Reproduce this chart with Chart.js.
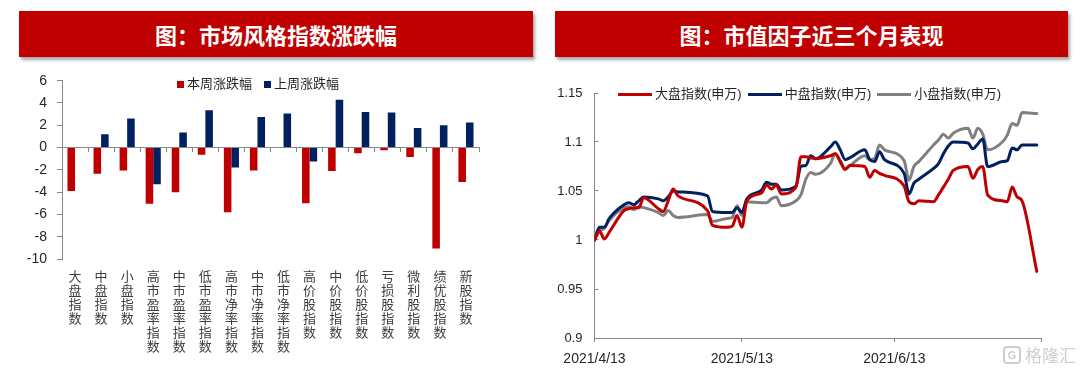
<!DOCTYPE html>
<html><head><meta charset="utf-8">
<script src="https://cdn.jsdelivr.net/npm/chart.js@4.4.1/dist/chart.umd.min.js"></script>
<style>
html,body{margin:0;padding:0;background:#fff;width:1080px;height:372px;overflow:hidden;font-family:"Liberation Sans","Noto Sans CJK SC",sans-serif;}
.banner{position:absolute;top:11px;height:46px;background:#C00000;color:#fff;font-family:"Noto Sans CJK SC",sans-serif;font-weight:bold;font-size:22px;line-height:46px;text-align:center;box-shadow:2px 3px 3px rgba(0,0,0,0.35);}
canvas{position:absolute;top:60px;}
#c1{left:0;}
#c2{left:540px;}
.legend{position:absolute;display:flex;align-items:center;font-size:13px;color:#262626;white-space:nowrap;line-height:16px;}
.legend .item{display:flex;align-items:center;}
.wm{position:absolute;left:1003px;top:345px;display:flex;align-items:center;color:#cfcfcf;font-family:"Noto Sans CJK SC",sans-serif;font-size:17px;line-height:20px;}
.wm .ic{width:14px;height:14px;border:2px solid #cfcfcf;border-radius:4px;margin-right:4px;font-size:11px;line-height:14px;text-align:center;font-weight:bold;font-family:"Liberation Sans",sans-serif;}
</style></head>
<body>
<div class="banner" style="left:19px;width:514px;">图：市场风格指数涨跌幅</div>
<div class="banner" style="left:555px;width:513px;">图：市值因子近三个月表现</div>
<canvas id="c1" width="540" height="312"></canvas>
<canvas id="c2" width="540" height="312"></canvas>
<div id="lg1" class="legend" style="left:177px;top:76px;"></div>
<div id="lg2" class="legend" style="left:618px;top:86px;"></div>
<div class="wm"><div class="ic">G</div>格隆汇</div>
<script>
// ---------- Bar chart data ----------
const categories = ['大盘指数','中盘指数','小盘指数','高市盈率指数','中市盈率指数','低市盈率指数','高市净率指数','中市净率指数','低市净率指数','高价股指数','中价股指数','低价股指数','亏损股指数','微利股指数','绩优股指数','新股指数'];
const barSeriesNames = ['本周涨跌幅','上周涨跌幅'];
const thisWeek = [-3.9, -2.35, -2.05, -5.05, -4.0, -0.65, -5.8, -2.05, -0.05, -5.0, -2.1, -0.5, -0.25, -0.85, -9.05, -3.1];
const lastWeek = [0.05, 1.2, 2.6, -3.3, 1.35, 3.35, -1.8, 2.75, 3.05, -1.25, 4.3, 3.2, 3.15, 1.75, 2.0, 2.25];
const barYTicks = [-10, -8, -6, -4, -2, 0, 2, 4, 6];

// ---------- Line chart data ----------
const dates = ['2021-04-13','2021-04-14','2021-04-15','2021-04-16','2021-04-19','2021-04-20','2021-04-21','2021-04-22','2021-04-23','2021-04-26','2021-04-27','2021-04-28','2021-04-29','2021-04-30',
'2021-05-06','2021-05-07','2021-05-10','2021-05-11','2021-05-12','2021-05-13','2021-05-14','2021-05-17','2021-05-18','2021-05-19','2021-05-20','2021-05-21','2021-05-24','2021-05-25','2021-05-26','2021-05-27','2021-05-28','2021-05-31',
'2021-06-01','2021-06-02','2021-06-03','2021-06-04','2021-06-07','2021-06-08','2021-06-09','2021-06-10','2021-06-11','2021-06-15','2021-06-16','2021-06-17','2021-06-18','2021-06-21','2021-06-22','2021-06-23','2021-06-24','2021-06-25','2021-06-28','2021-06-29','2021-06-30',
'2021-07-01','2021-07-02','2021-07-05','2021-07-06','2021-07-07','2021-07-08','2021-07-09','2021-07-12'];
const largeCap = [1.000,1.0095,1.001,1.008,1.030,1.032,1.033,1.033,1.043,1.032,1.029,1.040,1.052,1.045,
1.030,1.015,1.013,1.014,1.025,1.013,1.040,1.048,1.056,1.052,1.056,1.047,1.054,1.085,1.085,1.084,1.083,1.086,
1.088,1.080,1.072,1.076,1.075,1.064,1.071,1.068,1.066,1.055,1.039,1.037,1.040,1.039,1.046,1.054,1.062,1.071,1.075,1.063,1.072,
1.075,1.046,1.040,1.039,1.054,1.044,1.040,0.968];
const midCap = [1.000,1.013,1.013,1.022,1.036,1.038,1.036,1.040,1.044,1.042,1.040,1.044,1.050,1.049,
1.045,1.029,1.028,1.028,1.033,1.028,1.042,1.051,1.059,1.057,1.057,1.051,1.055,1.075,1.076,1.086,1.083,1.095,
1.100,1.092,1.082,1.084,1.092,1.082,1.080,1.090,1.082,1.068,1.047,1.058,1.062,1.073,1.078,1.088,1.096,1.100,1.099,1.093,1.098,
1.103,1.075,1.080,1.081,1.094,1.092,1.097,1.097];
const smallCap = [1.000,1.009,1.012,1.020,1.033,1.034,1.031,1.034,1.033,1.028,1.025,1.030,1.025,1.023,
1.026,1.019,1.022,1.023,1.035,1.025,1.039,1.038,1.038,1.042,1.044,1.035,1.040,1.046,1.062,1.069,1.067,1.078,
1.088,1.081,1.073,1.076,1.086,1.082,1.083,1.097,1.092,1.081,1.061,1.075,1.080,1.097,1.102,1.108,1.104,1.109,1.114,1.104,1.114,
1.108,1.092,1.100,1.107,1.119,1.117,1.130,1.129];
const lineSeriesNames = ['大盘指数(申万)','中盘指数(申万)','小盘指数(申万)'];
const xTickDates = ['2021-04-13','2021-05-13','2021-06-13','2021-07-13'];
const lineYTicks = [0.9, 0.95, 1, 1.05, 1.1, 1.15];

// ---------- helpers ----------
const RED = '#C00000', NAVY = '#002060', GRAY = '#808080', AXIS = '#868686';
const t0 = Date.UTC(2021, 3, 13);
const dayOf = s => { const [y, m, d] = s.split('-').map(Number); return Math.round((Date.UTC(y, m - 1, d) - t0) / 86400000); };
const fmtDate = s => { const [y, m, d] = s.split('-').map(Number); return y + '/' + m + '/' + d; };

// ---------- Bar chart ----------
const barChart = new Chart(document.getElementById('c1'), {
  type: 'bar',
  data: {
    labels: categories.map(s => s.split('')),
    datasets: [
      { label: barSeriesNames[0], data: thisWeek, backgroundColor: RED, xAxisID: 'x', yAxisID: 'y', categoryPercentage: 0.58, barPercentage: 1 },
      { label: barSeriesNames[1], data: lastWeek, backgroundColor: NAVY, xAxisID: 'x', yAxisID: 'y', categoryPercentage: 0.58, barPercentage: 1 }
    ]
  },
  options: {
    responsive: false, animation: false, devicePixelRatio: 1,
    layout: { padding: { left: 0, top: 20.7, right: 61, bottom: 0 } },
    plugins: { legend: { display: false }, tooltip: { enabled: false } },
    scales: {
      x: {
        grid: { display: false, drawTicks: false }, border: { display: false },
        ticks: { autoSkip: false, maxRotation: 0, minRotation: 0, padding: 10, color: '#404040',
                 font: { family: '"Noto Sans CJK SC"', size: 13, lineHeight: 14 / 13 } },
        afterFit: s => { s.height = 113; }
      },
      x2: {
        type: 'category', axis: 'x', position: { y: 0 }, offset: true,
        grid: { offset: true, drawOnChartArea: false, drawTicks: true, tickLength: 4, color: AXIS },
        border: { color: AXIS, width: 1 },
        ticks: { display: false }
      },
      y: {
        min: -10, max: 6,
        afterBuildTicks: s => { s.ticks = barYTicks.map(v => ({ value: v })); },
        grid: { drawOnChartArea: false, tickLength: 5, color: AXIS },
        border: { color: AXIS, width: 1 },
        ticks: { padding: 10, color: '#262626', font: { family: '"Liberation Sans"', size: 14 } },
        afterFit: s => { s.width = 62; }
      }
    }
  }
});

// ---------- Line chart ----------
const lineColors = [RED, NAVY, GRAY];
const lineValues = [largeCap, midCap, smallCap];
const lineChart = new Chart(document.getElementById('c2'), {
  type: 'line',
  data: {
    datasets: lineValues.map((vals, k) => ({
      label: lineSeriesNames[k],
      data: dates.map((d, i) => ({ x: dayOf(d), y: vals[i] })),
      borderColor: lineColors[k], backgroundColor: lineColors[k]
    }))
  },
  options: {
    responsive: false, animation: false, devicePixelRatio: 1,
    parsing: true,
    elements: { point: { radius: 0 }, line: { borderWidth: 3, cubicInterpolationMode: 'monotone', borderCapStyle: 'round', borderJoinStyle: 'round' } },
    layout: { padding: { left: 0, top: 33, right: 38.3, bottom: 0 } },
    plugins: { legend: { display: false }, tooltip: { enabled: false } },
    scales: {
      x: {
        type: 'linear', min: dayOf(xTickDates[0]), max: dayOf(xTickDates[xTickDates.length - 1]),
        afterBuildTicks: s => { s.ticks = xTickDates.map(d => ({ value: dayOf(d) })); },
        ticks: { autoSkip: false, maxRotation: 0, minRotation: 0, padding: 9, color: '#262626',
                 font: { family: '"Liberation Sans"', size: 14 },
                 callback: (v, i) => (i < xTickDates.length - 1 ? fmtDate(xTickDates[i]) : '') },
        grid: { drawOnChartArea: false, tickLength: 4, color: AXIS },
        border: { color: AXIS, width: 1 },
        afterFit: s => { s.height = 34; }
      },
      y: {
        min: 0.9, max: 1.15,
        afterBuildTicks: s => { s.ticks = lineYTicks.map(v => ({ value: v })); },
        ticks: { padding: 16, color: '#262626', font: { family: '"Liberation Sans"', size: 13 },
                 callback: v => String(+Number(v).toFixed(2)) },
        grid: { drawOnChartArea: false, tickLength: -4, color: AXIS },
        border: { color: AXIS, width: 1 },
        afterFit: s => { s.width = 54.5; }
      }
    }
  }
});

// ---------- HTML legends built from the chart datasets ----------
function buildLegend(el, chart, kind) {
  chart.data.datasets.forEach((ds, i) => {
    const item = document.createElement('div');
    item.className = 'item';
    const sw = document.createElement('span');
    if (kind === 'box') {
      sw.style.cssText = 'display:inline-block;width:7px;height:7px;margin-right:3px;background:' + ds.backgroundColor;
      item.style.marginRight = i < chart.data.datasets.length - 1 ? '12px' : '0';
    } else {
      sw.style.cssText = 'display:inline-block;width:34px;height:3px;margin-right:3px;background:' + ds.borderColor;
      item.style.marginRight = i < chart.data.datasets.length - 1 ? '6px' : '0';
    }
    const tx = document.createElement('span');
    tx.textContent = ds.label;
    item.appendChild(sw); item.appendChild(tx);
    el.appendChild(item);
  });
}
buildLegend(document.getElementById('lg1'), barChart, 'box');
buildLegend(document.getElementById('lg2'), lineChart, 'line');
</script>
</body></html>
